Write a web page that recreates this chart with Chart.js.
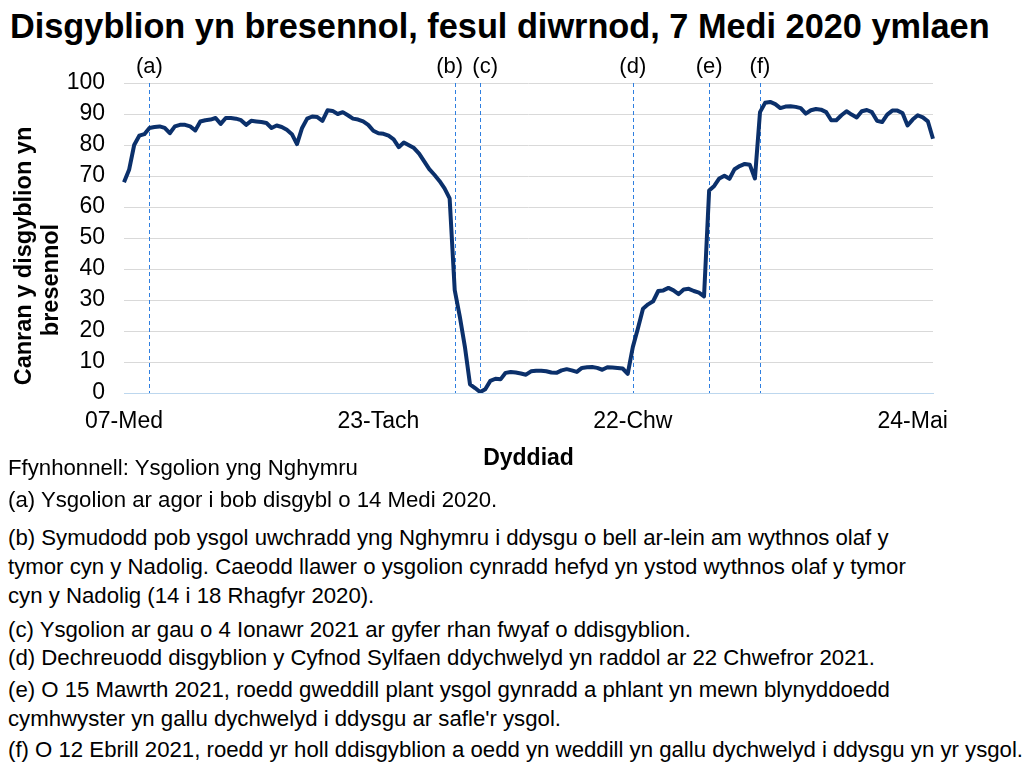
<!DOCTYPE html>
<html>
<head>
<meta charset="utf-8">
<script src="https://cdn.jsdelivr.net/npm/chart.js@4.4.0/dist/chart.umd.min.js"></script>
<style>
    body { margin: 0; background: #fff; font-family: "Liberation Sans", Arial, sans-serif; color: #000; }
    #wrap { position: relative; width: 1026px; height: 778px; overflow: hidden; }
    #title { position: absolute; left: 10px; top: 6px; font-size: 34.3px; line-height: 40px; font-weight: bold; white-space: nowrap; }
    #chart { position: absolute; left: 0; top: 0; }
    .note { position: absolute; left: 8px; font-size: 22.2px; line-height: 29px; white-space: nowrap; }
</style>
</head>
<body>
<div id="wrap">
    <div id="title">Disgyblion yn bresennol, fesul diwrnod, 7 Medi 2020 ymlaen</div>
    <canvas id="chart" width="1026" height="480"></canvas>
    <div class="note" style="top:453px">Ffynhonnell: Ysgolion yng Nghymru</div>
    <div class="note" style="top:485px">(a) Ysgolion ar agor i bob disgybl o 14 Medi 2020.</div>
    <div class="note" style="top:523px">(b) Symudodd pob ysgol uwchradd yng Nghymru i ddysgu o bell ar-lein am wythnos olaf y<br>tymor cyn y Nadolig. Caeodd llawer o ysgolion cynradd hefyd yn ystod wythnos olaf y tymor<br>cyn y Nadolig (14 i 18 Rhagfyr 2020).</div>
    <div class="note" style="top:615px">(c) Ysgolion ar gau o 4 Ionawr 2021 ar gyfer rhan fwyaf o ddisgyblion.</div>
    <div class="note" style="top:643px">(d) Dechreuodd disgyblion y Cyfnod Sylfaen ddychwelyd yn raddol ar 22 Chwefror 2021.</div>
    <div class="note" style="top:675px">(e) O 15 Mawrth 2021, roedd gweddill plant ysgol gynradd a phlant yn mewn blynyddoedd<br>cymhwyster yn gallu dychwelyd i ddysgu ar safle'r ysgol.</div>
    <div class="note" style="top:735px">(f) O 12 Ebrill 2021, roedd yr holl ddisgyblion a oedd yn weddill yn gallu dychwelyd i ddysgu yn yr ysgol.</div>
</div>
<script>
// tymhorau ysgol (dyddiau ysgol yn unig, gwyliau wedi'u hepgor)
const termStarts = ['2020-09-07', '2020-11-02', '2021-01-04', '2021-02-22', '2021-04-12']
const termEnds = ['2020-10-23', '2020-12-18', '2021-02-12', '2021-03-26', '2021-05-28']

// canran y disgyblion yn bresennol, fesul tymor
const term1Values = [68, 72, 80, 83, 83.5, 85.5, 85.8, 86, 85.5, 83.8, 86, 86.5, 86.5, 86, 84.7, 87.6, 88, 88.2, 88.7, 86.8,
    88.7, 88.7, 88.5, 88, 86.5, 87.8, 87.6, 87.4, 87.1, 85.5, 86.3, 85.8, 84.9, 83.5, 80.3]
const term2Values = [85.5, 88.5, 89.2, 89, 87.8, 91.2, 91, 90, 90.6, 89.6, 88.5, 88.2, 87.6, 86.5, 84.6, 83.8, 83.6, 83, 81.8, 79.3,
    80.8, 79.9, 79, 77.2, 74.7, 72.2, 70.4, 68.4, 66, 62.8, 33.2, 24.6, 14.9, 2.8, 1.6]
const term3Values = [0.3, 1.2, 3.9, 4.6, 4.4, 6.5, 6.8, 6.6, 6.3, 5.9, 7, 7.2, 7.2, 7, 6.6, 6.5, 7.3, 7.7, 7.3, 6.8,
    8.1, 8.3, 8.4, 8.1, 7.5, 8.3, 8.2, 8.1, 7.9, 6.2]
const term4Values = [14.8, 20.8, 27.2, 28.6, 29.6, 32.9, 33.1, 33.9, 33.1, 31.9, 33.4, 33.6, 32.9, 32.4, 31.2, 65.3, 66.8, 69.2, 70.1, 69.1,
    72.2, 73.2, 73.9, 73.6, 69.2]
const term5Values = [90.6, 93.6, 93.9, 93.2, 91.9, 92.4, 92.5, 92.3, 91.9, 90.1, 91.2, 91.6, 91.4, 90.6, 88, 88, 89.6, 90.9, 89.8, 88.9,
    90.9, 91.3, 90.6, 87.8, 87.4, 89.8, 91.1, 91.1, 90.3, 86.3, 88.2, 89.6, 88.9, 87.6, 82]

// labeli'r echel x
const tickDates = ['2020-09-07', '2020-11-23', '2021-02-22', '2021-05-24']
const monthNames = ['Ion', 'Chw', 'Maw', 'Ebr', 'Mai', 'Meh', 'Gor', 'Aws', 'Med', 'Hyd', 'Tach', 'Rhag']

// digwyddiadau (llinellau fertigol)
const eventLetters = ['(a)', '(b)', '(c)', '(d)', '(e)', '(f)']
const eventDates = ['2020-09-14', '2020-12-14', '2021-01-04', '2021-02-22', '2021-03-15', '2021-04-12']

const yTicks = { min: 0, max: 100, step: 10 }
const yTitleLines = ['Canran y disgyblion yn', 'bresennol']

// symud y labeli ychydig fel nad ydynt yn gorgyffwrdd
const eventLabelShift = [0, -5, 5, 0, 0, 0]

function schoolDays() {
    let days = []
    for (let t = 0; t < termStarts.length; t++) {
        let d = new Date(termStarts[t] + 'T00:00:00Z')
        const end = new Date(termEnds[t] + 'T00:00:00Z')
        while (d <= end) {
            const wd = d.getUTCDay()
            if (wd !== 0 && wd !== 6) days.push(d.toISOString().slice(0, 10))
            d = new Date(d.getTime() + 86400000)
        }
    }
    return days
}

function dayLabel(iso) {
    const d = new Date(iso + 'T00:00:00Z')
    return String(d.getUTCDate()).padStart(2, '0') + '-' + monthNames[d.getUTCMonth()]
}

const days = schoolDays()
const values = [].concat(term1Values, term2Values, term3Values, term4Values, term5Values)
const tickIdx = tickDates.map(d => days.indexOf(d))
const eventIdx = eventDates.map(d => days.indexOf(d))

const FONT = '"Liberation Sans", Arial, sans-serif'

// llinellau digwyddiadau
const eventLines = {
    id: 'eventLines',
    beforeDatasetsDraw(chart) {
        const { ctx, chartArea, scales } = chart
        ctx.save()
        ctx.strokeStyle = '#2f7fe0'
        ctx.lineWidth = 1
        ctx.setLineDash([4, 3])
        for (let i = 0; i < eventIdx.length; i++) {
            const x = Math.round(scales.x.getPixelForValue(eventIdx[i])) + 0.5
            ctx.beginPath()
            ctx.moveTo(x, chartArea.top)
            ctx.lineTo(x, chartArea.bottom)
            ctx.stroke()
        }
        ctx.restore()
    },
    afterDraw(chart) {
        const { ctx, chartArea, scales } = chart
        ctx.save()
        ctx.fillStyle = '#000'
        ctx.font = '22px ' + FONT
        ctx.textAlign = 'center'
        ctx.textBaseline = 'middle'
        for (let i = 0; i < eventIdx.length; i++) {
            const x = scales.x.getPixelForValue(eventIdx[i]) + eventLabelShift[i]
            ctx.fillText(eventLetters[i], x, chartArea.top - 16)
        }
        //teitl echel y
        const mid = (chartArea.top + chartArea.bottom) / 2
        ctx.font = 'bold 23.5px ' + FONT
        ctx.translate(0, 0)
        ctx.save()
        ctx.translate(25, mid + 18)
        ctx.rotate(-Math.PI / 2)
        ctx.fillText(yTitleLines[0], 0, 0)
        ctx.restore()
        ctx.save()
        ctx.translate(52, mid + 42)
        ctx.rotate(-Math.PI / 2)
        ctx.fillText(yTitleLines[1], 0, 0)
        ctx.restore()
        ctx.restore()
    }
}

new Chart(document.getElementById('chart'), {
    type: 'line',
    data: {
        labels: days,
        datasets: [{
            data: values,
            borderColor: '#0b306b',
            borderWidth: 4,
            pointRadius: 0,
            tension: 0,
            fill: false,
            borderJoinStyle: 'round'
        }]
    },
    options: {
        responsive: false,
        animation: false,
        devicePixelRatio: 1,
        layout: { padding: { left: 0, right: 93, top: 83, bottom: 0 } },
        plugins: {
            legend: { display: false },
            tooltip: { enabled: false }
        },
        scales: {
            x: {
                type: 'category',
                offset: false,
                afterFit: (s) => { s.height = 87 },
                afterBuildTicks: (s) => { s.ticks = s.ticks.filter(t => tickIdx.includes(t.value)) },
                grid: { display: false, drawTicks: false },
                border: { display: true, color: '#bdd7ee', width: 1 },
                ticks: {
                    autoSkip: false,
                    maxRotation: 0,
                    padding: 15,
                    color: '#000',
                    font: { family: FONT, size: 23 },
                    callback: (v) => dayLabel(days[v])
                },
                title: {
                    display: true,
                    text: 'Dyddiad',
                    color: '#000',
                    font: { family: FONT, size: 23, weight: 'bold' },
                    padding: { top: 0, bottom: 8 }
                }
            },
            y: {
                min: yTicks.min,
                max: yTicks.max,
                afterFit: (s) => { s.width = 124 },
                grid: { color: '#d9d9d9', lineWidth: 1, drawTicks: false },
                border: { display: false },
                ticks: {
                    stepSize: yTicks.step,
                    padding: 19,
                    color: '#000',
                    font: { family: FONT, size: 23 }
                }
            }
        }
    },
    plugins: [eventLines]
})
</script>
</body>
</html>
